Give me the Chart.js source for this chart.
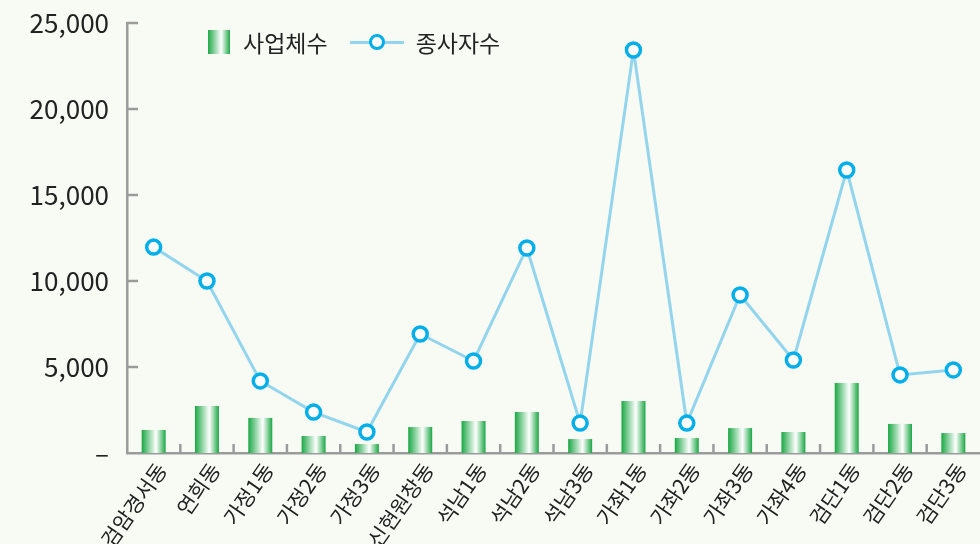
<!DOCTYPE html>
<html>
<head>
<meta charset="utf-8">
<script src="https://cdn.jsdelivr.net/npm/chart.js@4.4.1/dist/chart.umd.min.js"></script>
<style>
    body { margin: 0; background: #f8faf4; }
    #wrap { position: relative; width: 980px; height: 544px; }
    #legend { position: absolute; left: 208px; top: 25px; font-family: "Noto Sans CJK KR", sans-serif; font-size: 23px; color: #222; display: flex; align-items: center; }
    .barbox { width: 22px; height: 24px; background: linear-gradient(to right, #1fa846, #ffffff 60%, #1fa846); margin-right: 13px; }
    .linebox { position: relative; width: 54px; height: 24px; margin-left: 22px; margin-right: 12px; }
    .linebox .ln { position: absolute; left: 0; right: 0; top: 11px; height: 3px; background: #94d5ee; }
    .linebox .pt { position: absolute; left: 19px; top: 4px; width: 10px; height: 10px; border: 3.5px solid #00aeea; border-radius: 50%; background: #fff; }
</style>
</head>
<body>
<div id="wrap">
    <canvas id="chart" width="980" height="544"></canvas>
    <div id="legend">
        <div class="barbox"></div><span>사업체수</span>
        <div class="linebox"><div class="ln"></div><div class="pt"></div></div><span>종사자수</span>
    </div>
</div>
<script>
const dongs = ['검암경서동', '연희동', '가정1동', '가정2동', '가정3동', '신현원창동', '석남1동', '석남2동',
    '석남3동', '가좌1동', '가좌2동', '가좌3동', '가좌4동', '검단1동', '검단2동', '검단3동'];
const businesses = [1340, 2730, 2040, 990, 520, 1510, 1860, 2380, 810, 3020, 870, 1450, 1220, 4070, 1690, 1160];
const workers = [11970, 10000, 4190, 2380, 1220, 6920, 5350, 11920, 1740, 23430, 1740, 9190, 5410, 16450, 4540, 4830];
const yTicks = [0, 5000, 10000, 15000, 20000, 25000];

const axisGrey = '#9b9b9b';

// green-white-green gradient across each bar
function barGradient(ctx) {
    const chart = ctx.chart;
    const x = chart.scales && chart.scales.x;
    if (!x || ctx.type !== 'data') return '#1fa846';
    const cx = x.getPixelForValue(ctx.dataIndex);
    const half = (x.width / dongs.length) * 0.45 / 2;
    if (!isFinite(cx) || !isFinite(half) || half <= 0) return '#1fa846';
    const g = chart.ctx.createLinearGradient(cx - half, 0, cx + half, 0);
    g.addColorStop(0, '#1aa744');
    g.addColorStop(0.6, '#ffffff');
    g.addColorStop(1, '#1aa744');
    return g;
}

// small tick marks pointing into the plot area
const innerTicks = {
    id: 'innerTicks',
    beforeDatasetsDraw(chart) {
        const { ctx, chartArea, scales } = chart;
        ctx.save();
        ctx.strokeStyle = axisGrey;
        ctx.lineWidth = 2.5;
        ctx.beginPath();
        yTicks.forEach(v => {
            if (v === 0) return;
            const y = scales.y.getPixelForValue(v);
            ctx.moveTo(chartArea.left, y);
            ctx.lineTo(chartArea.left + 11, y);
        });
        for (let i = 0; i < dongs.length - 1; i++) {
            const x = (scales.x.getPixelForValue(i) + scales.x.getPixelForValue(i + 1)) / 2;
            ctx.moveTo(x, chartArea.bottom);
            ctx.lineTo(x, chartArea.bottom - 9);
        }
        ctx.stroke();
        ctx.restore();
    }
};

new Chart(document.getElementById('chart'), {
    type: 'bar',
    data: {
        labels: dongs,
        datasets: [
            {
                type: 'line',
                label: '종사자수',
                data: workers,
                borderColor: '#94d5ee',
                borderWidth: 3,
                pointRadius: 7,
                pointBorderWidth: 3.5,
                pointBorderColor: '#00aeea',
                pointBackgroundColor: '#ffffff',
                tension: 0,
                order: 0
            },
            {
                label: '사업체수',
                data: businesses,
                backgroundColor: barGradient,
                barPercentage: 0.45,
                categoryPercentage: 1,
                order: 1
            }
        ]
    },
    options: {
        responsive: false,
        animation: false,
        layout: { autoPadding: false, padding: { top: 23, right: 0 } },
        plugins: { legend: { display: false }, tooltip: { enabled: false } },
        scales: {
            x: {
                grid: { display: false, drawTicks: false },
                border: { color: axisGrey, width: 2.5 },
                ticks: {
                    color: '#222',
                    font: { family: 'Noto Sans CJK KR', size: 21 },
                    maxRotation: 55,
                    minRotation: 55,
                    padding: 5,
                    labelOffset: 8,
                    autoSkip: false
                },
                afterFit(scale) {
                    scale.height = 91;
                    scale.paddingLeft = 0;
                    scale.paddingRight = 0;
                }
            },
            y: {
                min: 0,
                max: 25000,
                afterBuildTicks(scale) { scale.ticks = yTicks.map(v => ({ value: v })); },
                grid: { display: false, drawTicks: false },
                border: { color: axisGrey, width: 2.5 },
                ticks: {
                    color: '#222',
                    font: { family: 'Noto Sans CJK KR', size: 26 },
                    padding: 18,
                    callback: v => v === 0 ? '–' : v.toLocaleString('en-US')
                },
                afterFit(scale) {
                    scale.width = 127;
                    scale.paddingTop = 0;
                    scale.paddingBottom = 0;
                }
            }
        }
    },
    plugins: [innerTicks]
});
</script>
</body>
</html>
